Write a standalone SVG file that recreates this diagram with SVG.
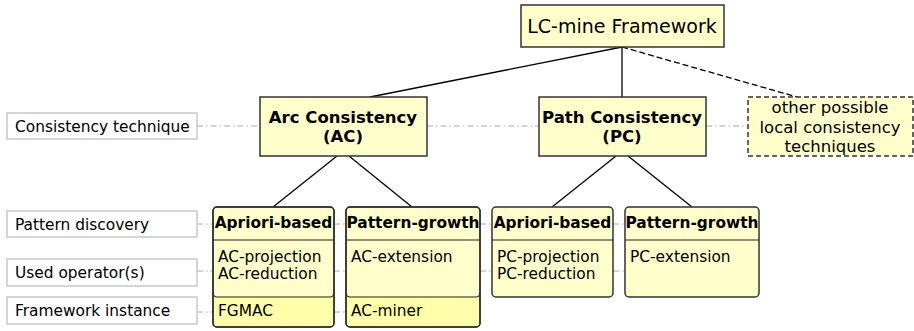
<svg xmlns="http://www.w3.org/2000/svg" width="914" height="331" viewBox="0 0 914 331">
<style>
text{font-family:"DejaVu Sans","Liberation Sans",sans-serif;fill:#000}
.lab rect{fill:#fff;stroke:#c8c8c8;stroke-width:1.5}
.lab text{font-size:15.4px}
.node{fill:#ffffcc;stroke:#333;stroke-width:1.5}
.t2{font-size:16.5px;text-anchor:middle}
.b{font-weight:bold}
.t3{font-size:15.4px}
.bot{fill:#ffffaa}
.div{stroke:#222;stroke-width:1.2}
.dd{stroke:#aaa;stroke-width:1;stroke-dasharray:6 3 1.5 3;fill:none}
.ln{stroke:#000;stroke-width:1.3;fill:none}
</style>
<g id="connectors">
<line class="dd" x1="197" y1="126" x2="260" y2="126"/>
<line class="dd" x1="427" y1="126" x2="539" y2="126"/>
<line class="dd" x1="706" y1="126" x2="747" y2="126"/>
<line class="dd" x1="197" y1="224" x2="213" y2="224"/>
<line class="dd" x1="334" y1="224" x2="346" y2="224"/>
<line class="dd" x1="480" y1="224" x2="492" y2="224"/>
<line class="dd" x1="613" y1="224" x2="625" y2="224"/>
<line class="dd" x1="197" y1="271" x2="213" y2="271"/>
<line class="dd" x1="334" y1="271" x2="346" y2="271"/>
<line class="dd" x1="480" y1="271" x2="492" y2="271"/>
<line class="dd" x1="613" y1="271" x2="625" y2="271"/>
<line class="dd" x1="197" y1="312" x2="213" y2="312"/>
<line class="dd" x1="334" y1="312" x2="346" y2="312"/>
<line class="ln" x1="622" y1="47" x2="370" y2="97"/>
<line class="ln" x1="622" y1="47" x2="622" y2="97"/>
<line class="ln" x1="622" y1="47" x2="797" y2="97" stroke-dasharray="6 3"/>
<line class="ln" x1="337" y1="156" x2="273" y2="207"/>
<line class="ln" x1="349" y1="156" x2="412" y2="207"/>
<line class="ln" x1="616" y1="156" x2="552" y2="207"/>
<line class="ln" x1="628" y1="156" x2="692" y2="207"/>
</g>
<g id="lab-technique" class="lab"><rect x="7" y="113" width="190" height="26"/><text x="15" y="131.5">Consistency technique</text></g>
<g id="lab-discovery" class="lab"><rect x="7" y="211" width="190" height="26"/><text x="15" y="229.5">Pattern discovery</text></g>
<g id="lab-operator" class="lab"><rect x="7" y="259" width="190" height="27"/><text x="15" y="277.5">Used operator(s)</text></g>
<g id="lab-instance" class="lab"><rect x="7" y="297" width="190" height="27"/><text x="15" y="316">Framework instance</text></g>
<g id="root"><rect class="node" x="521" y="5" width="203" height="42"/><text x="622" y="33" style="font-size:19px;text-anchor:middle">LC-mine Framework</text></g>
<g id="ac"><rect class="node" x="260" y="97" width="167" height="59"/><text class="t2 b" x="343" y="123">Arc Consistency</text><text class="t2 b" x="343" y="142">(AC)</text></g>
<g id="pc"><rect class="node" x="539" y="97" width="167" height="59"/><text class="t2 b" x="622" y="123">Path Consistency</text><text class="t2 b" x="622" y="142">(PC)</text></g>
<g id="other"><rect class="node" x="748" y="97" width="165" height="59" stroke-dasharray="5 3"/><text class="t2" x="830" y="113">other possible</text><text class="t2" x="830" y="132.5">local consistency</text><text class="t2" x="830" y="152">techniques</text></g>
<g id="ac-apriori">
<rect class="node" x="213" y="207" width="121" height="120" rx="4"/>
<path class="bot" d="M214,297H333V322a4,4 0 0 1 -4,4H218a4,4 0 0 1 -4,-4Z"/>
<line class="div" x1="213" y1="240" x2="334" y2="240"/>
<path class="div" fill="none" d="M213,293a4,4 0 0 0 4,4H330a4,4 0 0 0 4,-4"/>
<rect x="213" y="207" width="121" height="120" rx="4" fill="none" stroke="#333" stroke-width="1.5"/>
<text class="t3 b" x="273.5" y="228" text-anchor="middle">Apriori-based</text>
<text class="t3" x="218" y="262">AC-projection</text><text class="t3" x="218" y="279">AC-reduction</text>
<text class="t3" x="218" y="316">FGMAC</text>
</g>
<g id="ac-growth">
<rect class="node" x="346" y="207" width="134" height="120" rx="4"/>
<path class="bot" d="M347,297H479V322a4,4 0 0 1 -4,4H351a4,4 0 0 1 -4,-4Z"/>
<line class="div" x1="346" y1="240" x2="480" y2="240"/>
<path class="div" fill="none" d="M346,293a4,4 0 0 0 4,4H476a4,4 0 0 0 4,-4"/>
<rect x="346" y="207" width="134" height="120" rx="4" fill="none" stroke="#333" stroke-width="1.5"/>
<text class="t3 b" x="413" y="228" text-anchor="middle">Pattern-growth</text>
<text class="t3" x="351" y="262">AC-extension</text>
<text class="t3" x="351" y="316">AC-miner</text>
</g>
<g id="pc-apriori">
<rect class="node" x="492" y="207" width="121" height="90" rx="4"/>
<line class="div" x1="492" y1="240" x2="613" y2="240"/>
<text class="t3 b" x="552.5" y="228" text-anchor="middle">Apriori-based</text>
<text class="t3" x="497" y="262">PC-projection</text><text class="t3" x="497" y="279">PC-reduction</text>
</g>
<g id="pc-growth">
<rect class="node" x="625" y="207" width="134" height="90" rx="4"/>
<line class="div" x1="625" y1="240" x2="759" y2="240"/>
<text class="t3 b" x="692" y="228" text-anchor="middle">Pattern-growth</text>
<text class="t3" x="630" y="262">PC-extension</text>
</g>
</svg>
